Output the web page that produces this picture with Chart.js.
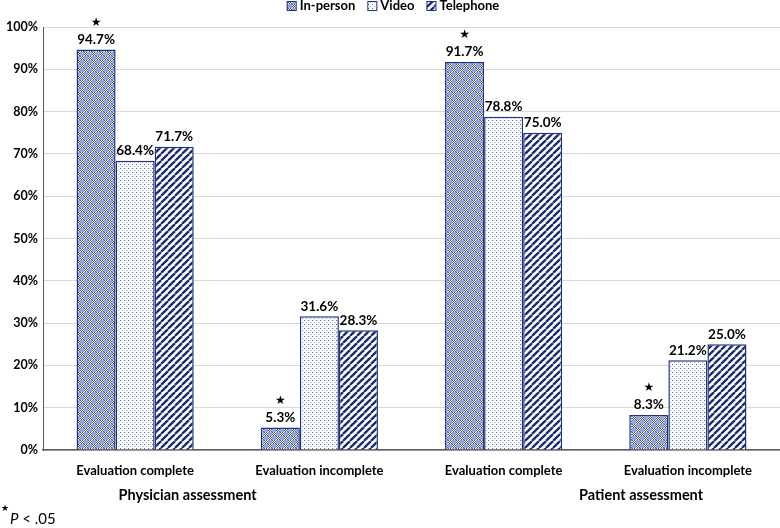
<!DOCTYPE html>
<html>
<head>
<meta charset="utf-8">
<script src="https://cdn.jsdelivr.net/npm/chart.js@4"></script>
<style>
  html, body { margin: 0; padding: 0; background: #fff; }
  #wrap { width: 780px; height: 528px; }
</style>
</head>
<body>
<div id="wrap"><canvas id="chart" width="780" height="528"></canvas></div>
<script>
// data
const categories = ["Evaluation complete", "Evaluation incomplete", "Evaluation complete", "Evaluation incomplete"];
const groupLabels = ["Physician assessment", "Patient assessment"];
const inPerson = [94.7, 5.3, 91.7, 8.3];
const video = [68.4, 31.6, 78.8, 21.2];
const telephone = [71.7, 28.3, 75.0, 25.0];
const inPersonStar = [true, true, true, true];
const seriesNames = ["In-person", "Video", "Telephone"];
const footnote = "P < .05";

const NAVY = "#1F3380";
const FONT = "Lato, 'Open Sans', sans-serif";

// patterns
function makePattern(size, drawFn) {
    const c = document.createElement("canvas");
    c.width = size; c.height = size;
    const g = c.getContext("2d");
    drawFn(g, size);
    return document.getElementById("chart").getContext("2d").createPattern(c, "repeat");
}

// checker blocks on a grey-blue ground
const checkPattern = makePattern(8, (g) => {
    g.fillStyle = "#98a6d2";
    g.fillRect(0, 0, 8, 8);
    [[0, 0], [4, 4]].forEach(q => {
        for (let y = 0; y < 4; y++) {
            for (let x = 0; x < 4; x++) {
                g.fillStyle = (x + y) % 2 === 0 ? "#34489a" : "#ffffff";
                g.fillRect(q[0] + x, q[1] + y, 1, 1);
            }
        }
    });
});

const dotPattern = makePattern(4, (g) => {
    g.fillStyle = "#ffffff";
    g.fillRect(0, 0, 4, 4);
    g.fillStyle = "#5568b0";
    g.fillRect(0, 0, 1, 1);
    g.fillStyle = "#a3b0da";
    g.fillRect(2, 2, 1, 1);
    g.fillStyle = "#e2e7f5";
    g.fillRect(1, 0, 1, 1);
    g.fillRect(3, 2, 1, 1);
});

const stripePattern = makePattern(7, (g, s) => {
    g.fillStyle = "#ffffff";
    g.fillRect(0, 0, s, s);
    g.strokeStyle = "#1a2a70";
    g.lineWidth = 2.3;
    for (let k = -1; k <= 1; k++) {
        g.beginPath();
        g.moveTo(k * s, s);
        g.lineTo(k * s + s, 0);
        g.stroke();
    }
});

const fills = [checkPattern, dotPattern, stripePattern];

// labels above bars + stars
const barLabels = {
    id: "barLabels",
    afterDatasetsDraw(chart) {
        const ctx = chart.ctx;
        ctx.save();
        ctx.textAlign = "center";
        ctx.textBaseline = "middle";
        ctx.fillStyle = "#000";
        chart.data.datasets.forEach((ds, i) => {
            const meta = chart.getDatasetMeta(i);
            meta.data.forEach((bar, j) => {
                ctx.font = "bold 13.5px " + FONT;
                ctx.fillText(ds.data[j].toFixed(1) + "%", bar.x, bar.y - 10);
                if (i === 0 && inPersonStar[j]) {
                    ctx.font = "12px 'DejaVu Sans'";
                    ctx.fillText("\u2605", bar.x, bar.y - 27);
                }
            });
        });
        ctx.restore();
    }
};

// legend, group labels, footnote
const extras = {
    id: "extras",
    afterDraw(chart) {
        const ctx = chart.ctx;
        const xs = chart.scales.x;
        ctx.save();
        // legend
        ctx.font = "bold 13px " + FONT;
        ctx.textBaseline = "middle";
        ctx.textAlign = "left";
        const gap = 12;
        const widths = seriesNames.map(n => 13 + ctx.measureText(n).width);
        const total = widths.reduce((a, b) => a + b, 0) + gap * (seriesNames.length - 1);
        let x = 393 - total / 2;
        seriesNames.forEach((n, i) => {
            ctx.fillStyle = fills[i];
            ctx.fillRect(x, 1, 9, 9);
            ctx.strokeStyle = NAVY;
            ctx.lineWidth = 1;
            ctx.strokeRect(x + 0.5, 1.5, 9, 9);
            ctx.fillStyle = "#000";
            ctx.fillText(n, x + 13, 6);
            x += widths[i] + gap;
        });
        // group labels
        const step = xs.getPixelForValue(1) - xs.getPixelForValue(0);
        ctx.font = "bold 14.5px " + FONT;
        ctx.textAlign = "center";
        ctx.fillText(groupLabels[0], xs.getPixelForValue(0) + step * 0.285, 495);
        ctx.fillText(groupLabels[1], xs.getPixelForValue(2) + step * 0.746, 495);
        // footnote
        ctx.textAlign = "left";
        ctx.font = "9px 'DejaVu Sans'";
        ctx.fillText("\u2605", 1, 509);
        ctx.font = "italic 15px " + FONT;
        ctx.fillText("P", 10, 519);
        const pw = ctx.measureText("P").width;
        ctx.font = "15px " + FONT;
        ctx.fillText(footnote.slice(1), 10 + pw, 519);
        ctx.restore();
    }
};

new Chart(document.getElementById("chart"), {
    type: "bar",
    data: {
        labels: categories,
        datasets: [inPerson, video, telephone].map((d, i) => ({
            label: seriesNames[i],
            data: d,
            backgroundColor: fills[i],
            borderColor: NAVY,
            borderWidth: 1.5,
            borderSkipped: "bottom",
            categoryPercentage: 0.636,
            barPercentage: 1.0
        }))
    },
    options: {
        responsive: false,
        animation: false,
        layout: { padding: { top: 27, right: 0, bottom: 0, left: 0 } },
        plugins: {
            legend: { display: false },
            tooltip: { enabled: false }
        },
        scales: {
            x: {
                grid: { display: false },
                border: { color: "#595959", width: 1.5 },
                ticks: {
                    color: "#000",
                    font: { family: FONT, size: 13, weight: "bold" },
                    padding: 5,
                    maxRotation: 0
                },
                afterFit(scale) { scale.height = 78; }
            },
            y: {
                min: 0,
                max: 100,
                grid: { color: "#d9d9d9", drawTicks: false },
                border: { color: "#595959", width: 1 },
                ticks: {
                    stepSize: 10,
                    color: "#000",
                    padding: 5,
                    font: { family: FONT, size: 12.5, weight: "bold" },
                    callback: (v) => v + "%"
                },
                afterFit(scale) { scale.width = 43; }
            }
        }
    },
    plugins: [barLabels, extras]
});
</script>
</body>
</html>
